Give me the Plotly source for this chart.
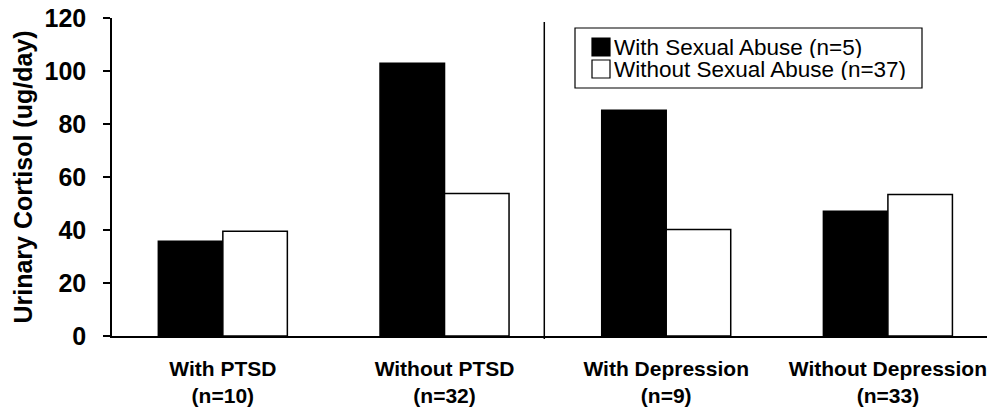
import plotly.graph_objects as go

categories = ["With PTSD<br>(n=10)", "Without PTSD<br>(n=32)",
              "With Depression<br>(n=9)", "Without Depression<br>(n=33)"]
with_abuse = [35.8, 102.9, 85.2, 47.1]
without_abuse = [39.5, 53.8, 40.2, 53.4]
series_names = ["With Sexual Abuse (n=5)", "Without Sexual Abuse (n=37)"]
series_fill = ["black", "white"]
y_ticks = [0, 20, 40, 60, 80, 100, 120]

FONT = "Liberation Sans, Arial, sans-serif"
x_idx = list(range(len(categories)))

W, H = 995, 410
# plot-area geometry in window pixels
L, R, T, B = 112, 987, 18, 336
def px(x):
    return (x - L) / (R - L)
def py(y):
    return (B - y) / (B - T)

fig = go.Figure()
for vals, name, fill in zip([with_abuse, without_abuse], series_names, series_fill):
    fig.add_trace(go.Bar(x=x_idx, y=vals, name=name, showlegend=False,
                         marker=dict(color=fill, line=dict(color="black", width=1.5))))

fig.update_layout(
    width=W, height=H,
    margin=dict(l=L, r=W - R, t=T, b=H - B),
    paper_bgcolor="white", plot_bgcolor="white",
    barmode="group", bargap=0.418, bargroupgap=0,
    font=dict(family=FONT, color="black"),
    showlegend=False,
)
fig.update_xaxes(
    range=[-0.5, 3.447], tickmode="array", tickvals=x_idx, ticktext=categories,
    showline=True, linecolor="black", linewidth=1.5, ticks="", showgrid=False,
    zeroline=False, automargin=False, ticklabeloverflow="allow",
    tickfont=dict(size=21, family=FONT, weight="bold"),
    ticklabelstandoff=13,
)
fig.update_yaxes(
    range=[0, 120], tickmode="array", tickvals=y_ticks,
    showline=True, linecolor="black", linewidth=1.5, ticks="outside", ticklen=7,
    tickwidth=1.5, tickcolor="black", showgrid=False, zeroline=False, automargin=False,
    ticklabeloverflow="allow",
    tickfont=dict(size=25, family=FONT, weight="bold"),
    ticklabelstandoff=12,
    title=dict(text="Urinary Cortisol (ug/day)", font=dict(size=25, family=FONT, weight="bold"),
               standoff=5),
)
# divider between PTSD and Depression groups
fig.add_shape(type="line", xref="x", yref="paper", x0=1.45, x1=1.45,
              y0=py(339), y1=py(22), line=dict(color="black", width=1.5))

# legend box drawn manually (to match the compact original legend)
fig.add_shape(type="rect", xref="paper", yref="paper",
              x0=px(575), x1=px(922), y0=py(88), y1=py(28),
              line=dict(color="black", width=1.2), fillcolor="white", layer="above")
row_y = [47, 69]
for ry, name, fill in zip(row_y, series_names, series_fill):
    fig.add_shape(type="rect", xref="paper", yref="paper",
                  x0=px(592), x1=px(610), y0=py(ry + 9), y1=py(ry - 9),
                  line=dict(color="black", width=1.2), fillcolor=fill, layer="above")
    fig.add_annotation(xref="paper", yref="paper", x=px(613), y=py(ry),
                       xanchor="left", yanchor="middle", text=name, showarrow=False,
                       height=22, borderpad=0,
                       font=dict(size=22.5, family=FONT, color="black"))

# remove the default 8px page margin so the figure fills the window exactly
fig.write_html("out.html", config={"displayModeBar": False},
               post_script="document.body.style.margin='0';")
